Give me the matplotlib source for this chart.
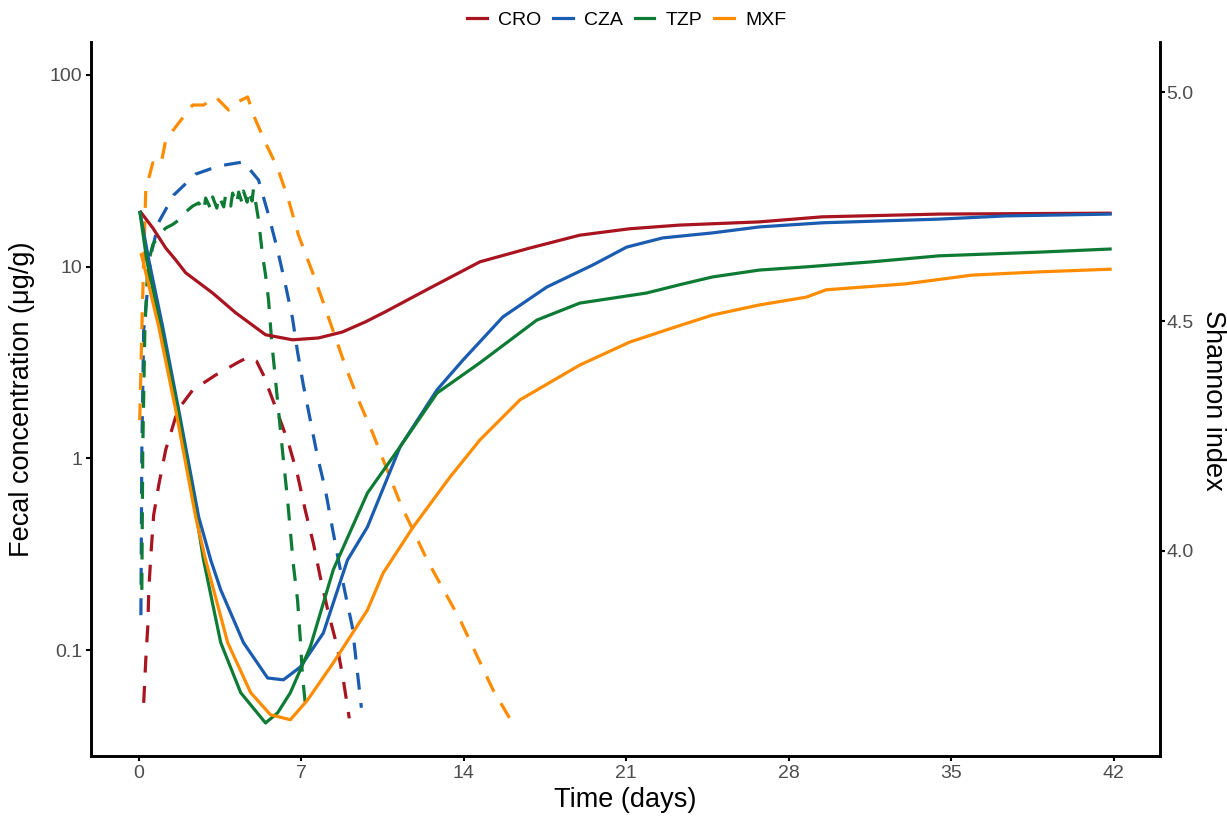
import numpy as np
import matplotlib.pyplot as plt
from matplotlib.lines import Line2D

plt.rcParams['font.family'] = ['Liberation Sans', 'DejaVu Sans']

drugs = ['CRO', 'CZA', 'TZP', 'MXF']
colors = ['#A8141F', '#1A5CB0', '#0E7B34', '#FF8C00']
xticks = [0, 7, 14, 21, 28, 35, 42]

# fecal concentration (ug/g) -> dashed lines, log axis
cro_conc_t = [0.21, 0.30, 0.39, 0.43, 0.52, 0.64, 0.86, 1.16, 1.68, 2.32, 3.31, 4.30, 4.73, 5.07,
              5.37, 5.89, 6.45, 6.84, 7.18, 7.52, 7.82, 8.17, 8.55, 8.81, 9.07]
cro_conc = [0.053, 0.089, 0.135, 0.206, 0.313, 0.506, 0.727, 1.11, 1.79, 2.27, 2.72, 3.18, 3.38, 3.22,
            2.72, 1.85, 1.20, 0.818, 0.531, 0.361, 0.240, 0.156, 0.104, 0.070, 0.044]

cza_conc_t = [0.09, 0.13, 0.21, 0.52, 0.86, 1.50, 2.45, 3.44, 4.51, 5.16, 5.59, 5.98, 6.32, 6.62,
              6.84, 7.09, 7.39, 7.70, 8.04, 8.34, 8.60, 8.90, 9.20, 9.59]
cza_conc = [0.152, 1.10, 4.68, 11.5, 17.1, 23.6, 30.4, 33.5, 35.2, 28.3, 18.6, 12.2, 8.02, 5.40,
            3.59, 2.41, 1.58, 1.02, 0.684, 0.433, 0.295, 0.196, 0.132, 0.050]

tzp_conc_t = [0.13, 0.17, 0.26, 0.39, 0.60, 0.86, 1.16, 1.46, 1.72, 2.02, 2.32, 2.58,
              2.80, 2.88, 3.10, 3.18, 3.36, 3.44, 3.66, 3.74, 3.96, 4.04, 4.22, 4.30,
              4.45, 4.51, 4.67, 4.73, 4.88, 4.94,
              5.16, 5.33, 5.46, 5.59, 5.72, 5.89, 6.06, 6.23, 6.41, 6.66, 6.84, 6.96, 7.05, 7.22]
tzp_conc = [0.206, 1.10, 4.68, 10.2, 13.0, 14.6, 15.9, 16.6, 17.5, 19.3, 20.7, 21.5,
            19.5, 22.8, 20.0, 23.1, 20.2, 23.4, 20.5, 23.6, 20.7, 24.2, 21.2, 24.5,
            21.5, 24.8, 21.7, 25.1, 22.0, 25.4,
            17.5, 11.5, 9.06, 6.70, 4.14, 2.56, 1.58, 0.98, 0.607, 0.278, 0.182, 0.113, 0.074, 0.046]

mxf_conc_t = [0.04, 0.13, 0.21, 0.30, 0.60, 0.95, 1.16, 1.72, 2.32, 2.79, 3.31, 3.87, 4.17, 4.69,
              4.94, 5.46, 5.98, 6.45, 6.88, 7.48, 7.91, 8.90, 9.46, 10.06, 11.26, 12.42, 13.84,
              15.26, 16.08]
mxf_conc = [1.58, 4.68, 10.8, 25.1, 34.8, 33.9, 45.8, 56.2, 69.7, 69.7, 76.8, 65.6, 71.5, 76.8,
            61.8, 44.2, 32.7, 22.3, 14.6, 9.38, 6.70, 3.03, 2.02, 1.37, 0.585, 0.295, 0.144,
            0.062, 0.042]

# Shannon index -> solid lines, right axis
cro_sh_t = [0.04, 0.60, 1.16, 1.59, 2.02, 3.18, 4.17, 5.46, 6.62, 7.74, 8.77, 9.76, 10.62, 12.55,
            14.70, 16.85, 19.00, 21.15, 23.30, 26.74, 29.45, 34.48, 41.92]
cro_sh = [4.741, 4.704, 4.660, 4.634, 4.606, 4.562, 4.519, 4.471, 4.460, 4.464, 4.477, 4.499,
          4.521, 4.573, 4.630, 4.660, 4.688, 4.702, 4.710, 4.717, 4.728, 4.734, 4.736]

cza_sh_t = [0.04, 0.43, 1.03, 1.72, 2.58, 3.10, 3.53, 4.51, 5.55, 6.23, 6.96, 7.95, 8.99, 9.85,
            11.26, 12.85, 13.97, 15.69, 17.58, 19.56, 21.02, 22.57, 24.72, 26.74, 29.45, 34.48,
            37.36, 41.92]
cza_sh = [4.741, 4.634, 4.488, 4.307, 4.074, 3.980, 3.915, 3.800, 3.723, 3.719, 3.747, 3.821,
          3.980, 4.052, 4.227, 4.351, 4.416, 4.510, 4.575, 4.623, 4.662, 4.682, 4.693, 4.706,
          4.715, 4.723, 4.730, 4.734]

tzp_sh_t = [0.04, 0.34, 0.95, 1.68, 2.49, 2.79, 3.53, 4.39, 5.46, 5.98, 6.53, 7.39, 8.38, 9.85,
            11.26, 12.85, 14.70, 17.15, 19.00, 21.88, 23.30, 24.72, 26.74, 28.76, 31.60, 34.48,
            38.78, 41.92]
tzp_sh = [4.741, 4.634, 4.488, 4.307, 4.074, 3.980, 3.800, 3.691, 3.625, 3.647, 3.691, 3.791,
          3.959, 4.126, 4.227, 4.344, 4.410, 4.503, 4.540, 4.562, 4.580, 4.597, 4.612, 4.619,
          4.630, 4.643, 4.651, 4.658]

mxf_sh_t = [0.09, 0.17, 0.86, 1.59, 2.45, 2.88, 3.83, 4.82, 5.67, 6.53, 7.27, 8.38, 9.85, 10.53,
            11.82, 13.41, 14.70, 16.42, 19.00, 21.15, 23.00, 24.72, 26.74, 28.76, 29.62, 33.06,
            35.90, 38.78, 41.92]
mxf_sh = [4.649, 4.634, 4.488, 4.307, 4.074, 3.980, 3.800, 3.691, 3.643, 3.632, 3.675, 3.756,
          3.871, 3.952, 4.052, 4.161, 4.242, 4.329, 4.405, 4.455, 4.486, 4.514, 4.536, 4.553,
          4.569, 4.582, 4.601, 4.608, 4.614]

conc = [(cro_conc_t, cro_conc), (cza_conc_t, cza_conc), (tzp_conc_t, tzp_conc), (mxf_conc_t, mxf_conc)]
shannon = [(cro_sh_t, cro_sh), (cza_sh_t, cza_sh), (tzp_sh_t, tzp_sh), (mxf_sh_t, mxf_sh)]

W, H = 1227, 818
fig = plt.figure(figsize=(W / 100, H / 100), dpi=100)
ax = fig.add_axes([91 / W, 1 - 756 / H, (1160 - 91) / W, (756 - 42) / H])
ax2 = ax.twinx()

lw = 2.3
for (t, c), col in zip(conc, colors):
    ax.plot(t, c, color=col, lw=lw, dashes=(5.3, 4.2))
for (t, s), col in zip(shannon, colors):
    ax2.plot(t, s, color=col, lw=lw, solid_capstyle='butt')

ax.set_yscale('log')
ax.set_ylim(0.028, 148.6)
ax.set_xlim(-2.06, 44.0)
ax2.set_ylim(3.553, 5.109)

ax.set_yticks([0.1, 1, 10, 100])
ax.set_yticklabels(['0.1', '1', '10', '100'])
ax.yaxis.set_minor_locator(plt.NullLocator())
ax.set_xticks(xticks)
ax.set_xticklabels([str(x) for x in xticks])
ax2.set_yticks([4.0, 4.5, 5.0])
ax2.set_yticklabels(['4.0', '4.5', '5.0'])

for a in (ax, ax2):
    for s in a.spines.values():
        s.set_linewidth(1.9)
    a.spines['top'].set_visible(False)
    a.tick_params(length=3.5, width=1.5, colors='black', labelcolor='#4D4D4D',
                  labelsize=14, pad=3)
ax2.tick_params(axis='y', pad=1)

fig.text(22 / W, 1 - 399 / H, 'Fecal concentration (μg/g)', rotation=90,
         ha='center', va='center', fontsize=19.5)
fig.text(1213 / W, 1 - 400 / H, 'Shannon index', rotation=270,
         ha='center', va='center', fontsize=19.5)
fig.text(625 / W, 1 - 800 / H, 'Time (days)', ha='center', va='center', fontsize=19.5)

handles = [Line2D([], [], color=c, lw=lw) for c in colors]
fig.legend(handles, drugs, loc='center', bbox_to_anchor=(627 / W, 1 - 20 / H), ncol=4,
           frameon=False, fontsize=14, handlelength=1.0, handletextpad=0.6,
           columnspacing=0.6)

fig.savefig('out.png', dpi=100)
